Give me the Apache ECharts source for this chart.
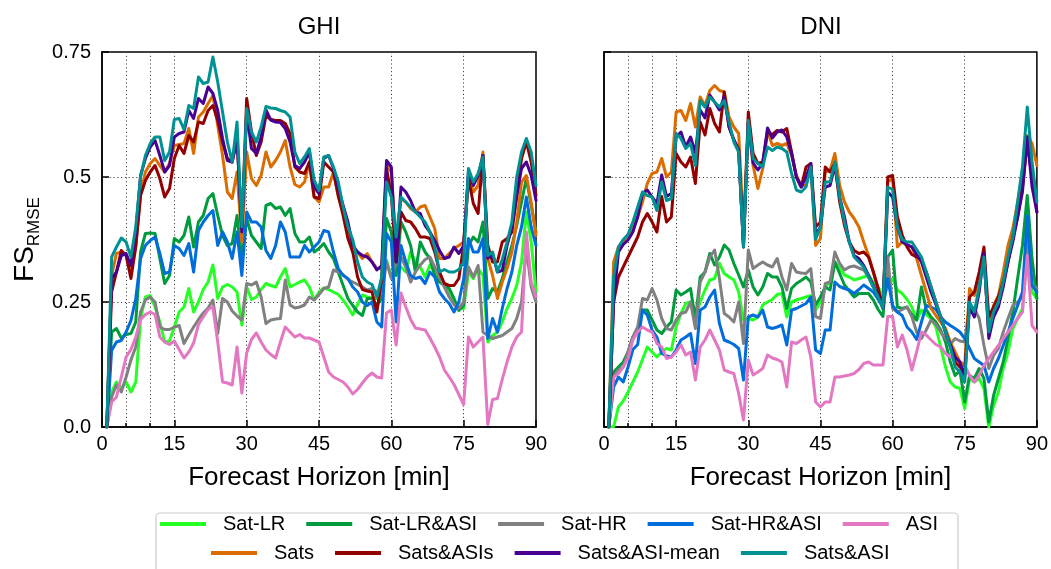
<!DOCTYPE html>
<html>
<head>
<meta charset="utf-8">
<title>FS RMSE GHI / DNI</title>
<script src="https://cdn.jsdelivr.net/npm/echarts@6.0.0/dist/echarts.min.js"></script>
<style>
  html, body { margin: 0; padding: 0; background: #fff; }
  #chart { width: 1051px; height: 569px; }
</style>
</head>
<body>
<div id="chart"></div>
<script>
// x categories: forecast horizon in minutes, 0..90
const minutes = [];
for (let m = 0; m <= 90; m++) minutes.push(String(m));
const xLabelMinutes = [0, 15, 30, 45, 60, 75, 90];
const xMinorTickMinutes = [5, 10];
const xGridMinutes = [5, 10, 15, 30, 45, 60, 75];

const seriesNames = ['Sat-LR', 'Sat-LR&ASI', 'Sat-HR', 'Sat-HR&ASI', 'ASI',
  'Sats', 'Sats&ASIs', 'Sats&ASI-mean', 'Sats&ASI'];
const seriesColors = ['#24ff24', '#009b3c', '#808080', '#006ddb', '#e377c2',
  '#db6d00', '#920000', '#490092', '#009292'];

// values for minutes 1..90
// ---- GHI ----
const ghiSatLR = [
  0.0, 0.07, 0.09, 0.077, 0.09, 0.07, 0.09, 0.217, 0.26, 0.263,
  0.24, 0.21, 0.17, 0.172, 0.2, 0.23, 0.24, 0.277, 0.23, 0.25,
  0.275, 0.29, 0.324, 0.257, 0.28, 0.285, 0.28, 0.27, 0.204, 0.28,
  0.255, 0.26, 0.275, 0.287, 0.283, 0.28, 0.30, 0.317, 0.28, 0.285,
  0.29, 0.294, 0.28, 0.254, 0.27, 0.278, 0.275, 0.27, 0.265, 0.254,
  0.24, 0.224, 0.245, 0.264, 0.26, 0.258, 0.257, 0.29, 0.334, 0.30,
  0.31, 0.32, 0.31, 0.35, 0.33, 0.32, 0.30, 0.324, 0.31, 0.30,
  0.287, 0.263, 0.25, 0.237, 0.237, 0.31, 0.297, 0.317, 0.303, 0.17,
  0.183, 0.19, 0.21, 0.237, 0.257, 0.283, 0.33, 0.43, 0.37, 0.27
];
const ghiSatLRASI = [
  0.0, 0.19, 0.197, 0.178, 0.185, 0.187, 0.21, 0.35, 0.387, 0.388,
  0.387, 0.337, 0.287, 0.303, 0.377, 0.37, 0.383, 0.42, 0.36, 0.41,
  0.423, 0.457, 0.467, 0.423, 0.383, 0.363, 0.367, 0.423, 0.337, 0.417,
  0.383, 0.37, 0.357, 0.443, 0.447, 0.437, 0.44, 0.423, 0.437, 0.387,
  0.37, 0.37, 0.38, 0.35, 0.357, 0.367, 0.35, 0.337, 0.31, 0.283,
  0.257, 0.243, 0.23, 0.223, 0.257, 0.257, 0.243, 0.257, 0.417, 0.39,
  0.303, 0.41, 0.39, 0.363, 0.31, 0.37, 0.35, 0.337, 0.303, 0.29,
  0.283, 0.277, 0.257, 0.233, 0.243, 0.363, 0.38, 0.37, 0.41, 0.257,
  0.277, 0.27, 0.297, 0.33, 0.363, 0.403, 0.45, 0.497, 0.443, 0.39
];
const ghiSatHR = [
  0.0, 0.06, 0.084, 0.07, 0.10, 0.134, 0.16, 0.23, 0.254, 0.26,
  0.25, 0.2, 0.195, 0.195, 0.2, 0.203, 0.167, 0.184, 0.2, 0.215,
  0.228, 0.238, 0.254, 0.187, 0.257, 0.25, 0.232, 0.222, 0.214, 0.287,
  0.284, 0.29, 0.26, 0.207, 0.214, 0.216, 0.217, 0.294, 0.244, 0.238,
  0.24, 0.244, 0.26, 0.254, 0.265, 0.277, 0.28, 0.314, 0.31, 0.305,
  0.295, 0.29, 0.285, 0.28, 0.274, 0.277, 0.27, 0.267, 0.33, 0.297,
  0.33, 0.34, 0.32, 0.29, 0.31, 0.324, 0.335, 0.34, 0.32, 0.30,
  0.28, 0.26, 0.245, 0.237, 0.25, 0.32, 0.30, 0.323, 0.19, 0.183,
  0.177, 0.18, 0.183, 0.19, 0.197, 0.217, 0.25, 0.36, 0.28, 0.25
];
const ghiSatHRASI = [
  0.0, 0.153, 0.17, 0.173, 0.19, 0.213, 0.257, 0.337, 0.363, 0.373,
  0.38, 0.347, 0.307, 0.31, 0.363, 0.357, 0.343, 0.367, 0.31, 0.393,
  0.41, 0.423, 0.433, 0.363, 0.39, 0.37, 0.337, 0.39, 0.303, 0.43,
  0.41, 0.41, 0.40, 0.353, 0.337, 0.363, 0.41, 0.39, 0.34, 0.34,
  0.34, 0.363, 0.35, 0.36, 0.37, 0.393, 0.39, 0.35, 0.317, 0.303,
  0.297, 0.28, 0.27, 0.25, 0.243, 0.25, 0.21, 0.2, 0.387, 0.37,
  0.21, 0.363, 0.33, 0.303, 0.297, 0.30, 0.287, 0.31, 0.30, 0.27,
  0.257, 0.247, 0.23, 0.25, 0.297, 0.377, 0.35, 0.35, 0.377, 0.177,
  0.217, 0.19, 0.237, 0.277, 0.31, 0.363, 0.40, 0.46, 0.40, 0.363
];
const ghiASI = [
  0.0, 0.05, 0.06, 0.10, 0.14, 0.155, 0.18, 0.215, 0.225, 0.23,
  0.225, 0.18, 0.17, 0.165, 0.172, 0.155, 0.138, 0.15, 0.168, 0.205,
  0.22, 0.235, 0.24, 0.17, 0.09, 0.088, 0.084, 0.16, 0.068, 0.148,
  0.175, 0.188, 0.17, 0.154, 0.145, 0.138, 0.17, 0.20, 0.19, 0.18,
  0.185, 0.178, 0.178, 0.174, 0.17, 0.14, 0.11, 0.10, 0.095, 0.09,
  0.08, 0.066, 0.075, 0.088, 0.10, 0.108, 0.10, 0.098, 0.228, 0.234,
  0.164, 0.268, 0.24, 0.215, 0.198, 0.196, 0.194, 0.178, 0.16, 0.14,
  0.114, 0.10, 0.085, 0.065, 0.045, 0.18, 0.16, 0.17, 0.18, 0.005,
  0.055, 0.057, 0.095, 0.13, 0.16, 0.18, 0.19, 0.39, 0.29, 0.26
];
const ghiSats = [
  0.0, 0.303, 0.347, 0.35, 0.343, 0.31, 0.363, 0.467, 0.51, 0.527,
  0.537, 0.523, 0.51, 0.527, 0.563, 0.565, 0.567, 0.597, 0.547, 0.62,
  0.63, 0.647, 0.663, 0.603, 0.543, 0.47, 0.457, 0.51, 0.37, 0.55,
  0.497, 0.483, 0.503, 0.55, 0.52, 0.533, 0.55, 0.573, 0.52, 0.485,
  0.48, 0.49, 0.53, 0.46, 0.45, 0.48, 0.48, 0.51, 0.46, 0.43,
  0.387, 0.35, 0.35, 0.337, 0.347, 0.33, 0.317, 0.317, 0.523, 0.51,
  0.36, 0.457, 0.45, 0.437, 0.43, 0.44, 0.443, 0.42, 0.397, 0.337,
  0.337, 0.347, 0.357, 0.363, 0.37, 0.503, 0.47, 0.483, 0.55, 0.337,
  0.303, 0.257, 0.29, 0.317, 0.35, 0.41, 0.49, 0.503, 0.45, 0.383
];
const ghiSatsASIs = [
  0.0, 0.27, 0.31, 0.353, 0.343, 0.297, 0.36, 0.463, 0.493, 0.51,
  0.523, 0.497, 0.46, 0.477, 0.537, 0.563, 0.547, 0.583, 0.57, 0.61,
  0.607, 0.633, 0.643, 0.613, 0.57, 0.537, 0.53, 0.577, 0.397, 0.657,
  0.59, 0.543, 0.57, 0.623, 0.615, 0.613, 0.613, 0.607, 0.587, 0.52,
  0.51, 0.507, 0.53, 0.46, 0.457, 0.53, 0.52, 0.51, 0.463, 0.423,
  0.377, 0.35, 0.30, 0.275, 0.272, 0.27, 0.23, 0.297, 0.517, 0.463,
  0.33, 0.43, 0.413, 0.41, 0.397, 0.38, 0.38, 0.377, 0.35, 0.31,
  0.287, 0.283, 0.283, 0.297, 0.363, 0.497, 0.447, 0.427, 0.543, 0.363,
  0.33, 0.33, 0.37, 0.377, 0.39, 0.463, 0.537, 0.57, 0.53, 0.463
];
const ghiSatsASImean = [
  0.0, 0.297, 0.31, 0.343, 0.347, 0.323, 0.39, 0.503, 0.537, 0.56,
  0.573, 0.543, 0.51, 0.523, 0.58, 0.587, 0.59, 0.633, 0.617, 0.657,
  0.647, 0.68, 0.667, 0.633, 0.577, 0.533, 0.53, 0.577, 0.39, 0.63,
  0.557, 0.547, 0.58, 0.634, 0.614, 0.61, 0.609, 0.597, 0.57, 0.523,
  0.517, 0.53, 0.55, 0.48, 0.467, 0.537, 0.543, 0.517, 0.477, 0.443,
  0.41, 0.364, 0.35, 0.343, 0.34, 0.33, 0.314, 0.323, 0.533, 0.52,
  0.33, 0.48, 0.47, 0.453, 0.43, 0.427, 0.403, 0.39, 0.373, 0.353,
  0.337, 0.34, 0.36, 0.347, 0.363, 0.513, 0.483, 0.503, 0.543, 0.337,
  0.347, 0.31, 0.313, 0.363, 0.40, 0.463, 0.517, 0.53, 0.503, 0.453
];
const ghiSatsASI = [
  0.0, 0.34, 0.36, 0.378, 0.37, 0.34, 0.40, 0.50, 0.543, 0.567,
  0.58, 0.58, 0.533, 0.55, 0.615, 0.617, 0.595, 0.643, 0.637, 0.70,
  0.687, 0.69, 0.74, 0.69, 0.63, 0.57, 0.53, 0.61, 0.40, 0.637,
  0.59, 0.57, 0.60, 0.641, 0.638, 0.637, 0.633, 0.63, 0.62, 0.55,
  0.527, 0.54, 0.557, 0.493, 0.473, 0.54, 0.543, 0.52, 0.49, 0.44,
  0.40, 0.375, 0.33, 0.30, 0.29, 0.285, 0.26, 0.30, 0.49, 0.46,
  0.38, 0.46, 0.45, 0.44, 0.43, 0.42, 0.41, 0.39, 0.36, 0.31,
  0.315, 0.31, 0.31, 0.315, 0.33, 0.517, 0.49, 0.507, 0.54, 0.343,
  0.35, 0.31, 0.335, 0.37, 0.41, 0.50, 0.55, 0.577, 0.55, 0.483
];

// ---- DNI ----
const dniSatLR = [
  0.0, 0.0, 0.04, 0.052, 0.07, 0.09, 0.11, 0.135, 0.16, 0.15,
  0.14, 0.15, 0.157, 0.154, 0.20, 0.227, 0.247, 0.25, 0.22, 0.25,
  0.274, 0.294, 0.297, 0.327, 0.307, 0.30, 0.294, 0.27, 0.214, 0.217,
  0.214, 0.22, 0.244, 0.25, 0.255, 0.265, 0.267, 0.22, 0.25, 0.254,
  0.257, 0.26, 0.263, 0.234, 0.25, 0.28, 0.29, 0.33, 0.317, 0.304,
  0.30, 0.294, 0.297, 0.30, 0.304, 0.29, 0.28, 0.26, 0.28, 0.297,
  0.274, 0.267, 0.255, 0.24, 0.214, 0.234, 0.225, 0.217, 0.20, 0.16,
  0.12, 0.09, 0.08, 0.077, 0.037, 0.097, 0.09, 0.097, 0.077, 0.0,
  0.043, 0.07, 0.117, 0.15, 0.197, 0.217, 0.237, 0.35, 0.27, 0.257
];
const dniSatLRASI = [
  0.0, 0.11, 0.12, 0.13, 0.15, 0.18, 0.194, 0.234, 0.234, 0.214,
  0.194, 0.187, 0.20, 0.21, 0.274, 0.264, 0.27, 0.277, 0.214, 0.30,
  0.31, 0.347, 0.324, 0.34, 0.364, 0.354, 0.327, 0.304, 0.28, 0.314,
  0.28, 0.264, 0.28, 0.307, 0.30, 0.30, 0.28, 0.237, 0.277, 0.287,
  0.293, 0.30, 0.29, 0.244, 0.26, 0.28, 0.274, 0.33, 0.307, 0.284,
  0.272, 0.26, 0.267, 0.267, 0.267, 0.254, 0.235, 0.221, 0.34, 0.354,
  0.24, 0.237, 0.24, 0.225, 0.214, 0.28, 0.235, 0.22, 0.21, 0.194,
  0.17, 0.13, 0.103, 0.113, 0.05, 0.103, 0.097, 0.117, 0.097, 0.01,
  0.063, 0.097, 0.13, 0.177, 0.23, 0.297, 0.363, 0.463, 0.337, 0.257
];
const dniSatHR = [
  0.0, 0.10, 0.114, 0.12, 0.15, 0.18, 0.20, 0.257, 0.254, 0.277,
  0.254, 0.217, 0.197, 0.194, 0.214, 0.227, 0.23, 0.25, 0.197, 0.29,
  0.31, 0.34, 0.354, 0.297, 0.227, 0.22, 0.21, 0.25, 0.167, 0.354,
  0.317, 0.324, 0.33, 0.324, 0.32, 0.337, 0.30, 0.274, 0.327, 0.31,
  0.308, 0.307, 0.317, 0.221, 0.217, 0.287, 0.29, 0.35, 0.327, 0.314,
  0.32, 0.322, 0.318, 0.314, 0.30, 0.28, 0.26, 0.247, 0.34, 0.237,
  0.23, 0.235, 0.24, 0.221, 0.19, 0.177, 0.194, 0.214, 0.205, 0.19,
  0.177, 0.165, 0.177, 0.172, 0.17, 0.243, 0.237, 0.217, 0.163, 0.117,
  0.143, 0.157, 0.19, 0.217, 0.243, 0.25, 0.26, 0.39, 0.283, 0.277
];
const dniSatHRASI = [
  0.0, 0.08, 0.10, 0.09, 0.12, 0.155, 0.165, 0.234, 0.224, 0.194,
  0.18, 0.147, 0.142, 0.14, 0.154, 0.174, 0.18, 0.187, 0.127, 0.234,
  0.24, 0.26, 0.274, 0.207, 0.174, 0.17, 0.165, 0.157, 0.094, 0.22,
  0.224, 0.22, 0.234, 0.20, 0.197, 0.20, 0.204, 0.164, 0.234, 0.237,
  0.242, 0.247, 0.26, 0.154, 0.147, 0.194, 0.194, 0.29, 0.281, 0.277,
  0.274, 0.267, 0.275, 0.284, 0.277, 0.27, 0.255, 0.24, 0.297, 0.243,
  0.23, 0.223, 0.20, 0.19, 0.175, 0.21, 0.243, 0.24, 0.235, 0.22,
  0.21, 0.203, 0.197, 0.19, 0.177, 0.157, 0.137, 0.13, 0.123, 0.09,
  0.117, 0.137, 0.163, 0.19, 0.217, 0.243, 0.27, 0.423, 0.283, 0.27
];
const dniASI = [
  0.0, 0.10, 0.107, 0.12, 0.137, 0.174, 0.19, 0.20, 0.194, 0.19,
  0.167, 0.16, 0.137, 0.14, 0.15, 0.164, 0.144, 0.15, 0.094, 0.16,
  0.174, 0.194, 0.174, 0.154, 0.114, 0.11, 0.107, 0.067, 0.014, 0.134,
  0.104, 0.11, 0.117, 0.144, 0.138, 0.135, 0.13, 0.08, 0.17, 0.167,
  0.174, 0.18, 0.14, 0.05, 0.04, 0.05, 0.05, 0.10, 0.10, 0.102,
  0.104, 0.107, 0.115, 0.127, 0.13, 0.124, 0.124, 0.124, 0.221, 0.221,
  0.16, 0.184, 0.154, 0.114, 0.15, 0.19, 0.184, 0.174, 0.165, 0.16,
  0.147, 0.14, 0.135, 0.13, 0.123, 0.103, 0.09, 0.103, 0.123, 0.137,
  0.15, 0.163, 0.177, 0.19, 0.203, 0.217, 0.23, 0.343, 0.203, 0.19
];
const dniSats = [
  0.0, 0.33, 0.36, 0.37, 0.385, 0.40, 0.42, 0.45, 0.487, 0.507,
  0.51, 0.537, 0.50, 0.51, 0.63, 0.633, 0.613, 0.647, 0.60, 0.66,
  0.643, 0.673, 0.683, 0.673, 0.67, 0.62, 0.60, 0.587, 0.40, 0.61,
  0.523, 0.477, 0.517, 0.593, 0.563, 0.567, 0.563, 0.567, 0.543, 0.503,
  0.483, 0.483, 0.523, 0.363, 0.377, 0.51, 0.513, 0.547, 0.483, 0.45,
  0.43, 0.417, 0.40, 0.37, 0.343, 0.31, 0.277, 0.237, 0.49, 0.497,
  0.36, 0.37, 0.363, 0.36, 0.337, 0.303, 0.27, 0.237, 0.223, 0.21,
  0.197, 0.17, 0.15, 0.13, 0.123, 0.277, 0.263, 0.297, 0.337, 0.19,
  0.243, 0.263, 0.31, 0.363, 0.397, 0.45, 0.51, 0.583, 0.567, 0.523
];
const dniSatsASIs = [
  0.0, 0.25, 0.30, 0.32, 0.34, 0.36, 0.38, 0.41, 0.427, 0.41,
  0.39, 0.461, 0.41, 0.42, 0.547, 0.53, 0.52, 0.54, 0.487, 0.61,
  0.584, 0.637, 0.607, 0.59, 0.67, 0.60, 0.574, 0.554, 0.36, 0.63,
  0.547, 0.527, 0.53, 0.59, 0.585, 0.593, 0.59, 0.597, 0.55, 0.50,
  0.48, 0.52, 0.527, 0.40, 0.41, 0.52, 0.51, 0.527, 0.45, 0.403,
  0.37, 0.353, 0.347, 0.35, 0.34, 0.31, 0.277, 0.237, 0.50, 0.503,
  0.42, 0.384, 0.36, 0.345, 0.34, 0.335, 0.31, 0.28, 0.25, 0.22,
  0.19, 0.16, 0.13, 0.12, 0.11, 0.26, 0.27, 0.31, 0.36, 0.22,
  0.24, 0.26, 0.29, 0.33, 0.38, 0.42, 0.48, 0.57, 0.50, 0.43
];
const dniSatsASImean = [
  0.0, 0.25, 0.35, 0.365, 0.374, 0.39, 0.42, 0.467, 0.474, 0.46,
  0.447, 0.504, 0.461, 0.467, 0.58, 0.59, 0.56, 0.58, 0.548, 0.634,
  0.618, 0.664, 0.65, 0.634, 0.66, 0.60, 0.574, 0.554, 0.36, 0.608,
  0.528, 0.514, 0.528, 0.598, 0.578, 0.59, 0.594, 0.58, 0.547, 0.50,
  0.48, 0.50, 0.527, 0.385, 0.40, 0.48, 0.483, 0.523, 0.46, 0.42,
  0.37, 0.343, 0.337, 0.323, 0.303, 0.283, 0.263, 0.237, 0.47, 0.46,
  0.40, 0.37, 0.365, 0.36, 0.345, 0.33, 0.30, 0.27, 0.245, 0.22,
  0.19, 0.165, 0.14, 0.13, 0.10, 0.24, 0.22, 0.27, 0.347, 0.177,
  0.22, 0.24, 0.28, 0.33, 0.37, 0.42, 0.47, 0.58, 0.48, 0.43
];
const dniSatsASI = [
  0.0, 0.30, 0.36, 0.375, 0.385, 0.41, 0.44, 0.47, 0.463, 0.46,
  0.433, 0.49, 0.453, 0.457, 0.587, 0.577, 0.557, 0.567, 0.523, 0.653,
  0.64, 0.66, 0.65, 0.64, 0.653, 0.61, 0.57, 0.55, 0.36, 0.613,
  0.537, 0.527, 0.52, 0.56, 0.553, 0.56, 0.557, 0.55, 0.507, 0.474,
  0.47, 0.48, 0.52, 0.375, 0.40, 0.49, 0.49, 0.53, 0.46, 0.41,
  0.37, 0.34, 0.33, 0.32, 0.30, 0.28, 0.26, 0.237, 0.48, 0.475,
  0.40, 0.375, 0.37, 0.37, 0.355, 0.34, 0.31, 0.28, 0.25, 0.22,
  0.19, 0.16, 0.12, 0.11, 0.09, 0.25, 0.23, 0.28, 0.34, 0.19,
  0.23, 0.25, 0.29, 0.34, 0.38, 0.45, 0.52, 0.64, 0.53, 0.45
];

const ghiValues = [ghiSatLR, ghiSatLRASI, ghiSatHR, ghiSatHRASI, ghiASI,
  ghiSats, ghiSatsASIs, ghiSatsASImean, ghiSatsASI];
const dniValues = [dniSatLR, dniSatLRASI, dniSatHR, dniSatHRASI, dniASI,
  dniSats, dniSatsASIs, dniSatsASImean, dniSatsASI];
// purple drawn on top of teal, as in the figure
const drawOrder = [0, 1, 2, 3, 4, 5, 6, 8, 7];

const FONT = '"Liberation Sans", Arial, Helvetica, sans-serif';
const GRID_LINE = { type: [1.2, 2.6], color: '#444', width: 1 };
const yTickLabel = (v) => (v === 0 ? '0.0' : String(v));

function makeXAxis(gridIndex) {
  return {
    type: 'category',
    gridIndex: gridIndex,
    data: minutes,
    boundaryGap: false,
    position: 'bottom',
    axisLine: { lineStyle: { color: '#000', width: 1.5 } },
    axisTick: {
      inside: true, length: 7,
      interval: (i) => xLabelMinutes.includes(i),
      lineStyle: { color: '#000', width: 1.5 }
    },
    axisLabel: {
      interval: (i) => xLabelMinutes.includes(i),
      color: '#000', fontSize: 20, fontFamily: FONT, margin: 7
    },
    splitLine: {
      show: true,
      interval: (i) => xGridMinutes.includes(i),
      lineStyle: GRID_LINE
    },
    name: 'Forecast Horizon [min]',
    nameLocation: 'middle',
    nameGap: 38,
    nameTextStyle: { color: '#000', fontSize: 26, fontFamily: FONT }
  };
}

// short ticks at 5 and 10 min
function makeMinorAxis(gridIndex) {
  return {
    type: 'category',
    gridIndex: gridIndex,
    data: minutes,
    boundaryGap: false,
    position: 'bottom',
    axisLine: { show: false },
    axisLabel: { show: false },
    splitLine: { show: false },
    axisTick: {
      inside: true, length: 4,
      interval: (i) => xMinorTickMinutes.includes(i),
      lineStyle: { color: '#000', width: 1.5 }
    }
  };
}

function makeYAxis(gridIndex) {
  return {
    type: 'value',
    gridIndex: gridIndex,
    min: 0, max: 0.75, interval: 0.25,
    axisLine: { show: true, lineStyle: { color: '#000', width: 1.5 } },
    axisTick: { show: true, inside: true, length: 7, lineStyle: { color: '#000', width: 1.5 } },
    axisLabel: {
      show: gridIndex === 0, formatter: yTickLabel,
      color: '#000', fontSize: 20, fontFamily: FONT, margin: 11
    },
    splitLine: { show: true, lineStyle: GRID_LINE },
    name: gridIndex === 0 ? '{fs|FS}{sub|RMSE}' : '',
    nameLocation: 'middle',
    nameRotate: 90,
    nameGap: 63,
    nameTextStyle: {
      rich: {
        fs: { fontSize: 28, fontFamily: FONT, color: '#000' },
        sub: { fontSize: 17, fontFamily: FONT, color: '#000', verticalAlign: 'bottom', padding: [0, 0, -4, 0] }
      }
    }
  };
}

const series = [];
[ghiValues, dniValues].forEach((panel, p) => {
  drawOrder.forEach((k) => {
    series.push({
      name: seriesNames[k],
      type: 'line',
      xAxisIndex: p,
      yAxisIndex: p,
      data: panel[k].map((v, i) => [i + 1, v]),
      symbol: 'none',
      color: seriesColors[k],
      lineStyle: { width: 3, color: seriesColors[k], join: 'round', cap: 'round' },
      z: 3 + k
    });
  });
});

const legendCommon = {
  orient: 'horizontal',
  icon: 'rect',
  itemWidth: 46,
  itemHeight: 4,
  itemGap: 21,
  padding: 0,
  selectedMode: false,
  textStyle: { color: '#000', fontSize: 20, fontFamily: FONT, padding: [0, 0, 0, 12] }
};

const chart = echarts.init(document.getElementById('chart'), null, { renderer: 'canvas' });
chart.setOption({
  animation: false,
  backgroundColor: '#fff',
  grid: [
    { left: 102, top: 52, width: 434, height: 375, show: true, borderColor: '#000', borderWidth: 1.5 },
    { left: 604, top: 52, width: 434, height: 375, show: true, borderColor: '#000', borderWidth: 1.5 }
  ],
  xAxis: [makeXAxis(0), makeXAxis(1), makeMinorAxis(0), makeMinorAxis(1)],
  yAxis: [makeYAxis(0), makeYAxis(1)],
  legend: [
    Object.assign({}, legendCommon, { left: 160, top: 514, data: seriesNames.slice(0, 5) }),
    Object.assign({}, legendCommon, { left: 211, top: 543, data: seriesNames.slice(5) })
  ],
  graphic: [
    {
      type: 'rect', z: 0, silent: true,
      shape: { x: 156, y: 513, width: 802, height: 80, r: 4 },
      style: { fill: '#fff', stroke: '#cccccc', lineWidth: 1.2 }
    },
    {
      type: 'text', x: 319, y: 27, silent: true,
      style: { text: 'GHI', fill: '#000', font: '24px ' + FONT, textAlign: 'center', textVerticalAlign: 'middle', align: 'center', verticalAlign: 'middle' }
    },
    {
      type: 'text', x: 821, y: 27, silent: true,
      style: { text: 'DNI', fill: '#000', font: '24px ' + FONT, textAlign: 'center', textVerticalAlign: 'middle', align: 'center', verticalAlign: 'middle' }
    }
  ],
  series: series
});
</script>
</body>
</html>
